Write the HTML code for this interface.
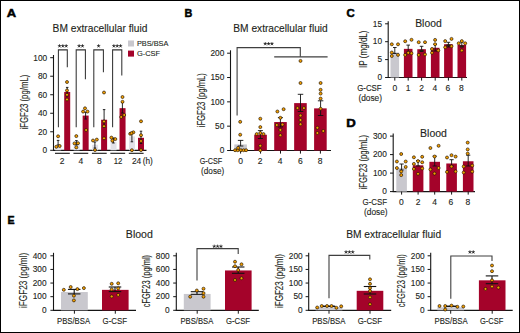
<!DOCTYPE html>
<html><head><meta charset="utf-8"><style>
html,body{margin:0;padding:0;background:#fff;}
#w{position:relative;width:520px;height:333px;overflow:hidden;}
svg{position:absolute;left:0;top:0;}
text{font-family:"Liberation Sans", sans-serif;fill:#231f20;stroke:#231f20;stroke-width:0.12px;}
text.st{fill:#222;stroke:none;}
text.pl{fill:#000;stroke:#000;stroke-width:0.5px;}
</style></head><body><div id="w">
<svg width="520" height="333" viewBox="0 0 520 333">
<rect x="0.5" y="0.5" width="519" height="332" fill="#fff" stroke="#000" stroke-width="1"/>
<text x="6.88" y="16.7" font-size="11.5" font-weight="bold" textLength="9.38" lengthAdjust="spacingAndGlyphs" class="pl">A</text>
<text x="52.58" y="31.6" font-size="10" textLength="94.8" lengthAdjust="spacingAndGlyphs">BM extracellular fluid</text>
<rect x="128" y="40.5" width="6" height="6" fill="#C9C8CE"/>
<rect x="128" y="50.6" width="6" height="6" fill="#A4032A"/>
<text x="136.91" y="46" font-size="7.9" textLength="31.49" lengthAdjust="spacingAndGlyphs">PBS/BSA</text>
<text x="136.93" y="55.8" font-size="7.9" textLength="23.18" lengthAdjust="spacingAndGlyphs">G-CSF</text>
<line x1="53.5" y1="55" x2="53.5" y2="150.8" stroke="#151515" stroke-width="1.1"/>
<line x1="50.2" y1="150.3" x2="53.5" y2="150.3" stroke="#151515" stroke-width="1"/>
<text x="42.53" y="153.1" font-size="8.3">0</text>
<line x1="50.2" y1="131.78" x2="53.5" y2="131.78" stroke="#151515" stroke-width="1"/>
<text x="37.92" y="134.58" font-size="8.3">20</text>
<line x1="50.2" y1="113.26" x2="53.5" y2="113.26" stroke="#151515" stroke-width="1"/>
<text x="37.92" y="116.06" font-size="8.3">40</text>
<line x1="50.2" y1="94.74" x2="53.5" y2="94.74" stroke="#151515" stroke-width="1"/>
<text x="37.92" y="97.54" font-size="8.3">60</text>
<line x1="50.2" y1="76.22" x2="53.5" y2="76.22" stroke="#151515" stroke-width="1"/>
<text x="37.92" y="79.02" font-size="8.3">80</text>
<line x1="50.2" y1="57.7" x2="53.5" y2="57.7" stroke="#151515" stroke-width="1"/>
<text x="33.31" y="60.5" font-size="8.3">100</text>
<text x="28" y="129.5" font-size="10" transform="rotate(-90 28 129.5)" textLength="54.79" lengthAdjust="spacingAndGlyphs">iFGF23 (pg/mL)</text>
<line x1="53" y1="150.3" x2="146.5" y2="150.3" stroke="#151515" stroke-width="1.2"/>
<rect x="55.2" y="146.6" width="6" height="3.7" fill="#E2E1E8"/>
<rect x="64.2" y="91.96" width="6" height="58.34" fill="#A4032A"/>
<line x1="55" y1="153.3" x2="69.8" y2="153.3" stroke="#151515" stroke-width="1.1"/>
<rect x="73.65" y="144.74" width="6" height="5.56" fill="#E2E1E8"/>
<rect x="82.65" y="115.58" width="6" height="34.72" fill="#A4032A"/>
<line x1="73.45" y1="153.3" x2="88.25" y2="153.3" stroke="#151515" stroke-width="1.1"/>
<rect x="92.1" y="144.74" width="6" height="5.56" fill="#E2E1E8"/>
<rect x="101.1" y="119.74" width="6" height="30.56" fill="#A4032A"/>
<line x1="91.9" y1="153.3" x2="106.7" y2="153.3" stroke="#151515" stroke-width="1.1"/>
<rect x="110.55" y="141.97" width="6" height="8.33" fill="#E2E1E8"/>
<rect x="119.55" y="108.17" width="6" height="42.13" fill="#A4032A"/>
<line x1="110.35" y1="153.3" x2="125.15" y2="153.3" stroke="#151515" stroke-width="1.1"/>
<rect x="129" y="136.41" width="6" height="13.89" fill="#E2E1E8"/>
<rect x="138" y="137.8" width="6" height="12.5" fill="#A4032A"/>
<line x1="128.8" y1="153.3" x2="143.6" y2="153.3" stroke="#151515" stroke-width="1.1"/>
<text x="59.64" y="163.5" font-size="8.5">2</text>
<text x="78.46" y="163.5" font-size="8.5">4</text>
<text x="97.12" y="163.5" font-size="8.5">8</text>
<text x="113.71" y="163.5" font-size="8.5" textLength="8.7" lengthAdjust="spacingAndGlyphs">12</text>
<text x="131.88" y="163.5" font-size="8.5" textLength="9.4" lengthAdjust="spacingAndGlyphs">24</text>
<text x="142.7" y="163.5" font-size="8.5" textLength="10.11" lengthAdjust="spacingAndGlyphs">(h)</text>
<path d="M58.4,127.3 V49.85 H67.3 V67.3" fill="none" stroke="#333" stroke-width="1.05"/>
<path d="M59.5,46 L59.5,44.65 M59.5,46 L58.22,45.58 M59.5,46 L58.71,47.09 M59.5,46 L60.29,47.09 M59.5,46 L60.78,45.58 " stroke="#222" stroke-width="0.8" stroke-linecap="round" fill="none"/>
<path d="M62.85,46 L62.85,44.65 M62.85,46 L61.57,45.58 M62.85,46 L62.06,47.09 M62.85,46 L63.64,47.09 M62.85,46 L64.13,45.58 " stroke="#222" stroke-width="0.8" stroke-linecap="round" fill="none"/>
<path d="M66.2,46 L66.2,44.65 M66.2,46 L64.92,45.58 M66.2,46 L65.41,47.09 M66.2,46 L66.99,47.09 M66.2,46 L67.48,45.58 " stroke="#222" stroke-width="0.8" stroke-linecap="round" fill="none"/>
<path d="M76.2,127.3 V49.85 H85.4 V79.3" fill="none" stroke="#333" stroke-width="1.05"/>
<path d="M79.13,46 L79.13,44.65 M79.13,46 L77.84,45.58 M79.13,46 L78.33,47.09 M79.13,46 L79.92,47.09 M79.13,46 L80.41,45.58 " stroke="#222" stroke-width="0.8" stroke-linecap="round" fill="none"/>
<path d="M82.48,46 L82.48,44.65 M82.48,46 L81.19,45.58 M82.48,46 L81.68,47.09 M82.48,46 L83.27,47.09 M82.48,46 L83.76,45.58 " stroke="#222" stroke-width="0.8" stroke-linecap="round" fill="none"/>
<path d="M93.8,127.3 V49.85 H103.4 V72.3" fill="none" stroke="#333" stroke-width="1.05"/>
<path d="M98.6,46 L98.6,44.65 M98.6,46 L97.32,45.58 M98.6,46 L97.81,47.09 M98.6,46 L99.39,47.09 M98.6,46 L99.88,45.58 " stroke="#222" stroke-width="0.8" stroke-linecap="round" fill="none"/>
<path d="M112.6,127.3 V49.85 H121.8 V75.5" fill="none" stroke="#333" stroke-width="1.05"/>
<path d="M113.85,46 L113.85,44.65 M113.85,46 L112.57,45.58 M113.85,46 L113.06,47.09 M113.85,46 L114.64,47.09 M113.85,46 L115.13,45.58 " stroke="#222" stroke-width="0.8" stroke-linecap="round" fill="none"/>
<path d="M117.2,46 L117.2,44.65 M117.2,46 L115.92,45.58 M117.2,46 L116.41,47.09 M117.2,46 L117.99,47.09 M117.2,46 L118.48,45.58 " stroke="#222" stroke-width="0.8" stroke-linecap="round" fill="none"/>
<path d="M120.55,46 L120.55,44.65 M120.55,46 L119.27,45.58 M120.55,46 L119.76,47.09 M120.55,46 L121.34,47.09 M120.55,46 L121.83,45.58 " stroke="#222" stroke-width="0.8" stroke-linecap="round" fill="none"/>
<line x1="58.1" y1="140.4" x2="58.1" y2="145" stroke="#111" stroke-width="0.9"/>
<line x1="56.8" y1="140.4" x2="59.4" y2="140.4" stroke="#111" stroke-width="0.9"/>
<line x1="56.8" y1="145" x2="59.4" y2="145" stroke="#111" stroke-width="0.9"/>
<circle cx="58.1" cy="136.3" r="1.5" fill="#F4A000" stroke="#1e1000" stroke-width="0.65"/>
<circle cx="56.3" cy="146.8" r="1.5" fill="#F4A000" stroke="#1e1000" stroke-width="0.65"/>
<circle cx="59.7" cy="146" r="1.5" fill="#F4A000" stroke="#1e1000" stroke-width="0.65"/>
<line x1="67.2" y1="87.4" x2="67.2" y2="96" stroke="#111" stroke-width="0.9"/>
<line x1="65.95" y1="87.4" x2="68.45" y2="87.4" stroke="#111" stroke-width="0.9"/>
<line x1="65.95" y1="96" x2="68.45" y2="96" stroke="#111" stroke-width="0.9"/>
<circle cx="67" cy="82" r="1.5" fill="#F4A000" stroke="#1e1000" stroke-width="0.65"/>
<circle cx="67" cy="90.4" r="1.5" fill="#F4A000" stroke="#1e1000" stroke-width="0.65"/>
<circle cx="67" cy="94.8" r="1.5" fill="#F4A000" stroke="#1e1000" stroke-width="0.65"/>
<circle cx="67" cy="99.4" r="1.5" fill="#F4A000" stroke="#1e1000" stroke-width="0.65"/>
<line x1="76.4" y1="140.6" x2="76.4" y2="145" stroke="#111" stroke-width="0.9"/>
<line x1="75.1" y1="140.6" x2="77.7" y2="140.6" stroke="#111" stroke-width="0.9"/>
<line x1="75.1" y1="145" x2="77.7" y2="145" stroke="#111" stroke-width="0.9"/>
<circle cx="76.3" cy="136.1" r="1.5" fill="#F4A000" stroke="#1e1000" stroke-width="0.65"/>
<circle cx="74.5" cy="143.4" r="1.5" fill="#F4A000" stroke="#1e1000" stroke-width="0.65"/>
<circle cx="78" cy="143.2" r="1.5" fill="#F4A000" stroke="#1e1000" stroke-width="0.65"/>
<circle cx="76.3" cy="147.4" r="1.5" fill="#F4A000" stroke="#1e1000" stroke-width="0.65"/>
<line x1="85.6" y1="112.3" x2="85.6" y2="119" stroke="#111" stroke-width="0.9"/>
<line x1="84.35" y1="112.3" x2="86.85" y2="112.3" stroke="#111" stroke-width="0.9"/>
<line x1="84.35" y1="119" x2="86.85" y2="119" stroke="#111" stroke-width="0.9"/>
<circle cx="85" cy="108.3" r="1.5" fill="#F4A000" stroke="#1e1000" stroke-width="0.65"/>
<circle cx="83.1" cy="111.6" r="1.5" fill="#F4A000" stroke="#1e1000" stroke-width="0.65"/>
<circle cx="87.5" cy="111.6" r="1.5" fill="#F4A000" stroke="#1e1000" stroke-width="0.65"/>
<circle cx="86.1" cy="130" r="1.5" fill="#F4A000" stroke="#1e1000" stroke-width="0.65"/>
<line x1="94.9" y1="142" x2="94.9" y2="148" stroke="#111" stroke-width="0.9"/>
<line x1="93.65" y1="142" x2="96.15" y2="142" stroke="#111" stroke-width="0.9"/>
<line x1="93.65" y1="148" x2="96.15" y2="148" stroke="#111" stroke-width="0.9"/>
<circle cx="93" cy="140.5" r="1.5" fill="#F4A000" stroke="#1e1000" stroke-width="0.65"/>
<circle cx="96.8" cy="139.6" r="1.5" fill="#F4A000" stroke="#1e1000" stroke-width="0.65"/>
<circle cx="95" cy="150" r="1.5" fill="#F4A000" stroke="#1e1000" stroke-width="0.65"/>
<line x1="104.1" y1="109.6" x2="104.1" y2="127.5" stroke="#111" stroke-width="0.9"/>
<line x1="102.85" y1="109.6" x2="105.35" y2="109.6" stroke="#111" stroke-width="0.9"/>
<line x1="102.85" y1="127.5" x2="105.35" y2="127.5" stroke="#111" stroke-width="0.9"/>
<circle cx="104" cy="92.5" r="1.5" fill="#F4A000" stroke="#1e1000" stroke-width="0.65"/>
<circle cx="104" cy="121.4" r="1.5" fill="#F4A000" stroke="#1e1000" stroke-width="0.65"/>
<circle cx="104" cy="126.2" r="1.5" fill="#F4A000" stroke="#1e1000" stroke-width="0.65"/>
<circle cx="104" cy="138.3" r="1.5" fill="#F4A000" stroke="#1e1000" stroke-width="0.65"/>
<line x1="113.4" y1="138" x2="113.4" y2="143" stroke="#111" stroke-width="0.9"/>
<line x1="112.15" y1="138" x2="114.65" y2="138" stroke="#111" stroke-width="0.9"/>
<line x1="112.15" y1="143" x2="114.65" y2="143" stroke="#111" stroke-width="0.9"/>
<circle cx="111.4" cy="137.6" r="1.5" fill="#F4A000" stroke="#1e1000" stroke-width="0.65"/>
<circle cx="115.3" cy="139.1" r="1.5" fill="#F4A000" stroke="#1e1000" stroke-width="0.65"/>
<circle cx="112.4" cy="140.7" r="1.5" fill="#F4A000" stroke="#1e1000" stroke-width="0.65"/>
<line x1="122.4" y1="102.5" x2="122.4" y2="113" stroke="#111" stroke-width="0.9"/>
<line x1="121.15" y1="102.5" x2="123.65" y2="102.5" stroke="#111" stroke-width="0.9"/>
<line x1="121.15" y1="113" x2="123.65" y2="113" stroke="#111" stroke-width="0.9"/>
<circle cx="122.5" cy="97" r="1.5" fill="#F4A000" stroke="#1e1000" stroke-width="0.65"/>
<circle cx="122.5" cy="101.8" r="1.5" fill="#F4A000" stroke="#1e1000" stroke-width="0.65"/>
<circle cx="121.2" cy="117" r="1.5" fill="#F4A000" stroke="#1e1000" stroke-width="0.65"/>
<circle cx="124.2" cy="115" r="1.5" fill="#F4A000" stroke="#1e1000" stroke-width="0.65"/>
<line x1="131.9" y1="132.3" x2="131.9" y2="141.8" stroke="#111" stroke-width="0.9"/>
<line x1="130.65" y1="132.3" x2="133.15" y2="132.3" stroke="#111" stroke-width="0.9"/>
<line x1="130.65" y1="141.8" x2="133.15" y2="141.8" stroke="#111" stroke-width="0.9"/>
<circle cx="130.2" cy="133.8" r="1.5" fill="#F4A000" stroke="#1e1000" stroke-width="0.65"/>
<circle cx="133.4" cy="132.3" r="1.5" fill="#F4A000" stroke="#1e1000" stroke-width="0.65"/>
<circle cx="131.5" cy="133.2" r="1.5" fill="#F4A000" stroke="#1e1000" stroke-width="0.65"/>
<circle cx="131.9" cy="150.2" r="1.5" fill="#F4A000" stroke="#1e1000" stroke-width="0.65"/>
<line x1="141" y1="131.2" x2="141" y2="143.5" stroke="#111" stroke-width="0.9"/>
<line x1="139.75" y1="131.2" x2="142.25" y2="131.2" stroke="#111" stroke-width="0.9"/>
<line x1="139.75" y1="143.5" x2="142.25" y2="143.5" stroke="#111" stroke-width="0.9"/>
<circle cx="141" cy="121.3" r="1.5" fill="#F4A000" stroke="#1e1000" stroke-width="0.65"/>
<circle cx="141" cy="135.2" r="1.5" fill="#F4A000" stroke="#1e1000" stroke-width="0.65"/>
<circle cx="141" cy="141" r="1.5" fill="#F4A000" stroke="#1e1000" stroke-width="0.65"/>
<circle cx="141" cy="150.1" r="1.5" fill="#F4A000" stroke="#1e1000" stroke-width="0.65"/>
<text x="184.4" y="16.7" font-size="11.5" font-weight="bold" textLength="7.81" lengthAdjust="spacingAndGlyphs" class="pl">B</text>
<text x="233.29" y="31.6" font-size="10" textLength="94.49" lengthAdjust="spacingAndGlyphs">BM extracellular fluid</text>
<line x1="230.5" y1="50.3" x2="230.5" y2="150.8" stroke="#151515" stroke-width="1.1"/>
<line x1="227.1" y1="150.5" x2="230.5" y2="150.5" stroke="#151515" stroke-width="1"/>
<text x="219.63" y="153.2" font-size="8.3">0</text>
<line x1="227.1" y1="126.17" x2="230.5" y2="126.17" stroke="#151515" stroke-width="1"/>
<text x="215.02" y="128.88" font-size="8.3">50</text>
<line x1="227.1" y1="101.85" x2="230.5" y2="101.85" stroke="#151515" stroke-width="1"/>
<text x="210.41" y="104.55" font-size="8.3">100</text>
<line x1="227.1" y1="77.53" x2="230.5" y2="77.53" stroke="#151515" stroke-width="1"/>
<text x="210.41" y="80.23" font-size="8.3">150</text>
<line x1="227.1" y1="53.2" x2="230.5" y2="53.2" stroke="#151515" stroke-width="1"/>
<text x="210.41" y="55.9" font-size="8.3">200</text>
<text x="205" y="127.3" font-size="10" transform="rotate(-90 205 127.3)" textLength="54.18" lengthAdjust="spacingAndGlyphs">iFGF23 (pg/mL)</text>
<line x1="230" y1="150.5" x2="331" y2="150.5" stroke="#151515" stroke-width="1.2"/>
<rect x="234.3" y="144.42" width="12.6" height="6.08" fill="#C9C8CE"/>
<line x1="240.6" y1="150.5" x2="240.6" y2="153.6" stroke="#151515" stroke-width="1"/>
<rect x="254.25" y="134.74" width="12.6" height="15.76" fill="#A4032A"/>
<line x1="260.55" y1="150.5" x2="260.55" y2="153.6" stroke="#151515" stroke-width="1"/>
<rect x="274.2" y="122.04" width="12.6" height="28.46" fill="#A4032A"/>
<line x1="280.5" y1="150.5" x2="280.5" y2="153.6" stroke="#151515" stroke-width="1"/>
<rect x="294.15" y="103.11" width="12.6" height="47.39" fill="#A4032A"/>
<line x1="300.45" y1="150.5" x2="300.45" y2="153.6" stroke="#151515" stroke-width="1"/>
<rect x="314.1" y="108.37" width="12.6" height="42.13" fill="#A4032A"/>
<line x1="320.4" y1="150.5" x2="320.4" y2="153.6" stroke="#151515" stroke-width="1"/>
<text x="238.24" y="164.1" font-size="8.5">0</text>
<text x="257.74" y="164.1" font-size="8.5">2</text>
<text x="277.66" y="164.1" font-size="8.5">4</text>
<text x="297.92" y="164.1" font-size="8.5">6</text>
<text x="317.72" y="164.1" font-size="8.5">8</text>
<text x="199.64" y="164.1" font-size="8.5" textLength="22.56" lengthAdjust="spacingAndGlyphs">G-CSF</text>
<text x="201.11" y="173.6" font-size="8.5" textLength="23.12" lengthAdjust="spacingAndGlyphs">(dose)</text>
<path d="M237.1,115.5 V47.6 H300.3 V56.8" fill="none" stroke="#3f3f3f" stroke-width="1.1"/>
<line x1="274.2" y1="56.8" x2="327.6" y2="56.8" stroke="#3f3f3f" stroke-width="1.2"/>
<path d="M265.25,43.8 L265.25,42.45 M265.25,43.8 L263.97,43.38 M265.25,43.8 L264.46,44.89 M265.25,43.8 L266.04,44.89 M265.25,43.8 L266.53,43.38 " stroke="#222" stroke-width="0.8" stroke-linecap="round" fill="none"/>
<path d="M268.6,43.8 L268.6,42.45 M268.6,43.8 L267.32,43.38 M268.6,43.8 L267.81,44.89 M268.6,43.8 L269.39,44.89 M268.6,43.8 L269.88,43.38 " stroke="#222" stroke-width="0.8" stroke-linecap="round" fill="none"/>
<path d="M271.95,43.8 L271.95,42.45 M271.95,43.8 L270.67,43.38 M271.95,43.8 L271.16,44.89 M271.95,43.8 L272.74,44.89 M271.95,43.8 L273.23,43.38 " stroke="#222" stroke-width="0.8" stroke-linecap="round" fill="none"/>
<line x1="240.6" y1="140.4" x2="240.6" y2="146" stroke="#111" stroke-width="0.9"/>
<line x1="237.85" y1="140.4" x2="243.35" y2="140.4" stroke="#111" stroke-width="0.9"/>
<line x1="237.85" y1="146" x2="243.35" y2="146" stroke="#111" stroke-width="0.9"/>
<circle cx="240.2" cy="121.8" r="1.5" fill="#F4A000" stroke="#1e1000" stroke-width="0.65"/>
<circle cx="240.2" cy="134.7" r="1.5" fill="#F4A000" stroke="#1e1000" stroke-width="0.65"/>
<circle cx="235.1" cy="150.2" r="1.5" fill="#F4A000" stroke="#1e1000" stroke-width="0.65"/>
<circle cx="237.7" cy="150.2" r="1.5" fill="#F4A000" stroke="#1e1000" stroke-width="0.65"/>
<circle cx="240.9" cy="150.2" r="1.5" fill="#F4A000" stroke="#1e1000" stroke-width="0.65"/>
<circle cx="243.6" cy="150.2" r="1.5" fill="#F4A000" stroke="#1e1000" stroke-width="0.65"/>
<circle cx="246.1" cy="150.2" r="1.5" fill="#F4A000" stroke="#1e1000" stroke-width="0.65"/>
<circle cx="238.1" cy="147.9" r="1.5" fill="#F4A000" stroke="#1e1000" stroke-width="0.65"/>
<line x1="260.4" y1="130.6" x2="260.4" y2="138.5" stroke="#111" stroke-width="0.9"/>
<line x1="257.9" y1="130.6" x2="262.9" y2="130.6" stroke="#111" stroke-width="0.9"/>
<line x1="257.9" y1="138.5" x2="262.9" y2="138.5" stroke="#111" stroke-width="0.9"/>
<circle cx="260.3" cy="118.7" r="1.5" fill="#F4A000" stroke="#1e1000" stroke-width="0.65"/>
<circle cx="260.3" cy="127.1" r="1.5" fill="#F4A000" stroke="#1e1000" stroke-width="0.65"/>
<circle cx="256.7" cy="134.1" r="1.5" fill="#F4A000" stroke="#1e1000" stroke-width="0.65"/>
<circle cx="263.5" cy="134.1" r="1.5" fill="#F4A000" stroke="#1e1000" stroke-width="0.65"/>
<circle cx="260.3" cy="133" r="1.5" fill="#F4A000" stroke="#1e1000" stroke-width="0.65"/>
<circle cx="260.3" cy="145.7" r="1.5" fill="#F4A000" stroke="#1e1000" stroke-width="0.65"/>
<circle cx="260.3" cy="150.2" r="1.5" fill="#F4A000" stroke="#1e1000" stroke-width="0.65"/>
<line x1="280.4" y1="117.6" x2="280.4" y2="127" stroke="#111" stroke-width="0.9"/>
<line x1="277.9" y1="117.6" x2="282.9" y2="117.6" stroke="#111" stroke-width="0.9"/>
<line x1="277.9" y1="127" x2="282.9" y2="127" stroke="#111" stroke-width="0.9"/>
<circle cx="277.4" cy="111.5" r="1.5" fill="#F4A000" stroke="#1e1000" stroke-width="0.65"/>
<circle cx="283.6" cy="109.2" r="1.5" fill="#F4A000" stroke="#1e1000" stroke-width="0.65"/>
<circle cx="280.4" cy="117.8" r="1.5" fill="#F4A000" stroke="#1e1000" stroke-width="0.65"/>
<circle cx="276.8" cy="125" r="1.5" fill="#F4A000" stroke="#1e1000" stroke-width="0.65"/>
<circle cx="282.5" cy="124.6" r="1.5" fill="#F4A000" stroke="#1e1000" stroke-width="0.65"/>
<circle cx="280.4" cy="129.9" r="1.5" fill="#F4A000" stroke="#1e1000" stroke-width="0.65"/>
<circle cx="280.4" cy="135.2" r="1.5" fill="#F4A000" stroke="#1e1000" stroke-width="0.65"/>
<line x1="300.5" y1="94.3" x2="300.5" y2="111.5" stroke="#111" stroke-width="0.9"/>
<line x1="297.75" y1="94.3" x2="303.25" y2="94.3" stroke="#111" stroke-width="0.9"/>
<line x1="297.75" y1="111.5" x2="303.25" y2="111.5" stroke="#111" stroke-width="0.9"/>
<circle cx="300.5" cy="60.9" r="1.5" fill="#F4A000" stroke="#1e1000" stroke-width="0.65"/>
<circle cx="300.5" cy="83" r="1.5" fill="#F4A000" stroke="#1e1000" stroke-width="0.65"/>
<circle cx="297.5" cy="108.1" r="1.5" fill="#F4A000" stroke="#1e1000" stroke-width="0.65"/>
<circle cx="303.9" cy="108.1" r="1.5" fill="#F4A000" stroke="#1e1000" stroke-width="0.65"/>
<circle cx="300.5" cy="115.5" r="1.5" fill="#F4A000" stroke="#1e1000" stroke-width="0.65"/>
<circle cx="300.5" cy="120" r="1.5" fill="#F4A000" stroke="#1e1000" stroke-width="0.65"/>
<circle cx="300.5" cy="124.2" r="1.5" fill="#F4A000" stroke="#1e1000" stroke-width="0.65"/>
<line x1="320.6" y1="100.8" x2="320.6" y2="115.5" stroke="#111" stroke-width="0.9"/>
<line x1="317.85" y1="100.8" x2="323.35" y2="100.8" stroke="#111" stroke-width="0.9"/>
<line x1="317.85" y1="115.5" x2="323.35" y2="115.5" stroke="#111" stroke-width="0.9"/>
<circle cx="320.6" cy="83" r="1.5" fill="#F4A000" stroke="#1e1000" stroke-width="0.65"/>
<circle cx="320.6" cy="89.8" r="1.5" fill="#F4A000" stroke="#1e1000" stroke-width="0.65"/>
<circle cx="320.6" cy="93.6" r="1.5" fill="#F4A000" stroke="#1e1000" stroke-width="0.65"/>
<circle cx="320.6" cy="98.6" r="1.5" fill="#F4A000" stroke="#1e1000" stroke-width="0.65"/>
<circle cx="320.6" cy="108.7" r="1.5" fill="#F4A000" stroke="#1e1000" stroke-width="0.65"/>
<circle cx="317.4" cy="127.8" r="1.5" fill="#F4A000" stroke="#1e1000" stroke-width="0.65"/>
<circle cx="323.3" cy="131" r="1.5" fill="#F4A000" stroke="#1e1000" stroke-width="0.65"/>
<circle cx="317.4" cy="133" r="1.5" fill="#F4A000" stroke="#1e1000" stroke-width="0.65"/>
<text x="346.44" y="16.7" font-size="11.5" font-weight="bold" textLength="8.27" lengthAdjust="spacingAndGlyphs" class="pl">C</text>
<text x="415.22" y="26.8" font-size="10" textLength="26.48" lengthAdjust="spacingAndGlyphs">Blood</text>
<line x1="388.2" y1="21.2" x2="388.2" y2="77.9" stroke="#151515" stroke-width="1.1"/>
<line x1="385.1" y1="77.5" x2="388.2" y2="77.5" stroke="#151515" stroke-width="1"/>
<text x="377.43" y="80.2" font-size="8.3">0</text>
<line x1="385.1" y1="59.6" x2="388.2" y2="59.6" stroke="#151515" stroke-width="1"/>
<text x="377.43" y="62.3" font-size="8.3">5</text>
<line x1="385.1" y1="41.7" x2="388.2" y2="41.7" stroke="#151515" stroke-width="1"/>
<text x="372.82" y="44.4" font-size="8.3">10</text>
<line x1="385.1" y1="23.8" x2="388.2" y2="23.8" stroke="#151515" stroke-width="1"/>
<text x="372.82" y="26.5" font-size="8.3">15</text>
<text x="366.9" y="67.92" font-size="10" transform="rotate(-90 366.9 67.92)" textLength="37.45" lengthAdjust="spacingAndGlyphs">IP (mg/dL)</text>
<line x1="388" y1="77.5" x2="467" y2="77.5" stroke="#151515" stroke-width="1.2"/>
<rect x="390.5" y="52.44" width="8.6" height="25.06" fill="#C9C8CE"/>
<line x1="394.8" y1="77.5" x2="394.8" y2="80.6" stroke="#151515" stroke-width="1"/>
<rect x="403.9" y="48.86" width="8.6" height="28.64" fill="#A4032A"/>
<line x1="408.2" y1="77.5" x2="408.2" y2="80.6" stroke="#151515" stroke-width="1"/>
<rect x="417.3" y="49.22" width="8.6" height="28.28" fill="#A4032A"/>
<line x1="421.6" y1="77.5" x2="421.6" y2="80.6" stroke="#151515" stroke-width="1"/>
<rect x="430.9" y="47.79" width="8.6" height="29.71" fill="#A4032A"/>
<line x1="435.2" y1="77.5" x2="435.2" y2="80.6" stroke="#151515" stroke-width="1"/>
<rect x="444.1" y="44.21" width="8.6" height="33.29" fill="#A4032A"/>
<line x1="448.4" y1="77.5" x2="448.4" y2="80.6" stroke="#151515" stroke-width="1"/>
<rect x="457.5" y="44.92" width="8.6" height="32.58" fill="#A4032A"/>
<line x1="461.8" y1="77.5" x2="461.8" y2="80.6" stroke="#151515" stroke-width="1"/>
<text x="392.49" y="91.2" font-size="8.5">0</text>
<text x="405.74" y="91.2" font-size="8.5">1</text>
<text x="419.34" y="91.2" font-size="8.5">2</text>
<text x="432.56" y="91.2" font-size="8.5">4</text>
<text x="445.42" y="91.2" font-size="8.5">6</text>
<text x="459.02" y="91.2" font-size="8.5">8</text>
<text x="357.21" y="91" font-size="8.5" textLength="24.41" lengthAdjust="spacingAndGlyphs">G-CSF</text>
<text x="358.4" y="100.7" font-size="8.5" textLength="23.64" lengthAdjust="spacingAndGlyphs">(dose)</text>
<line x1="394.8" y1="47.5" x2="394.8" y2="53.5" stroke="#111" stroke-width="0.9"/>
<line x1="393" y1="47.5" x2="396.6" y2="47.5" stroke="#111" stroke-width="0.9"/>
<line x1="393" y1="53.5" x2="396.6" y2="53.5" stroke="#111" stroke-width="0.9"/>
<circle cx="391.8" cy="44.3" r="1.5" fill="#F4A000" stroke="#1e1000" stroke-width="0.65"/>
<circle cx="398" cy="44.3" r="1.5" fill="#F4A000" stroke="#1e1000" stroke-width="0.65"/>
<circle cx="391.8" cy="52.5" r="1.5" fill="#F4A000" stroke="#1e1000" stroke-width="0.65"/>
<circle cx="391.8" cy="56" r="1.5" fill="#F4A000" stroke="#1e1000" stroke-width="0.65"/>
<circle cx="398" cy="54.9" r="1.5" fill="#F4A000" stroke="#1e1000" stroke-width="0.65"/>
<line x1="408.2" y1="45.1" x2="408.2" y2="52" stroke="#111" stroke-width="0.9"/>
<line x1="406.4" y1="45.1" x2="410" y2="45.1" stroke="#111" stroke-width="0.9"/>
<line x1="406.4" y1="52" x2="410" y2="52" stroke="#111" stroke-width="0.9"/>
<circle cx="405.2" cy="41.25" r="1.5" fill="#F4A000" stroke="#1e1000" stroke-width="0.65"/>
<circle cx="411.5" cy="39.8" r="1.5" fill="#F4A000" stroke="#1e1000" stroke-width="0.65"/>
<circle cx="405.2" cy="54.9" r="1.5" fill="#F4A000" stroke="#1e1000" stroke-width="0.65"/>
<circle cx="408.3" cy="52.8" r="1.5" fill="#F4A000" stroke="#1e1000" stroke-width="0.65"/>
<circle cx="411.5" cy="53.3" r="1.5" fill="#F4A000" stroke="#1e1000" stroke-width="0.65"/>
<line x1="421.6" y1="46.3" x2="421.6" y2="51.5" stroke="#111" stroke-width="0.9"/>
<line x1="419.8" y1="46.3" x2="423.4" y2="46.3" stroke="#111" stroke-width="0.9"/>
<line x1="419.8" y1="51.5" x2="423.4" y2="51.5" stroke="#111" stroke-width="0.9"/>
<line x1="419.6" y1="50.5" x2="423.6" y2="50.5" stroke="#221" stroke-width="1.6"/>
<circle cx="418.7" cy="42.2" r="1.5" fill="#F4A000" stroke="#1e1000" stroke-width="0.65"/>
<circle cx="425" cy="42.2" r="1.5" fill="#F4A000" stroke="#1e1000" stroke-width="0.65"/>
<circle cx="418.7" cy="54.9" r="1.5" fill="#F4A000" stroke="#1e1000" stroke-width="0.65"/>
<circle cx="425" cy="54.4" r="1.5" fill="#F4A000" stroke="#1e1000" stroke-width="0.65"/>
<line x1="435.2" y1="44.4" x2="435.2" y2="51" stroke="#111" stroke-width="0.9"/>
<line x1="433.4" y1="44.4" x2="437" y2="44.4" stroke="#111" stroke-width="0.9"/>
<line x1="433.4" y1="51" x2="437" y2="51" stroke="#111" stroke-width="0.9"/>
<circle cx="435.1" cy="39.9" r="1.5" fill="#F4A000" stroke="#1e1000" stroke-width="0.65"/>
<circle cx="435.1" cy="44.2" r="1.5" fill="#F4A000" stroke="#1e1000" stroke-width="0.65"/>
<circle cx="432" cy="49" r="1.5" fill="#F4A000" stroke="#1e1000" stroke-width="0.65"/>
<circle cx="438.3" cy="50.4" r="1.5" fill="#F4A000" stroke="#1e1000" stroke-width="0.65"/>
<circle cx="432" cy="52.8" r="1.5" fill="#F4A000" stroke="#1e1000" stroke-width="0.65"/>
<line x1="448.4" y1="42.3" x2="448.4" y2="47" stroke="#111" stroke-width="0.9"/>
<line x1="446.6" y1="42.3" x2="450.2" y2="42.3" stroke="#111" stroke-width="0.9"/>
<line x1="446.6" y1="47" x2="450.2" y2="47" stroke="#111" stroke-width="0.9"/>
<line x1="446.4" y1="45.2" x2="450.4" y2="45.2" stroke="#221" stroke-width="1.6"/>
<circle cx="445.2" cy="41.1" r="1.5" fill="#F4A000" stroke="#1e1000" stroke-width="0.65"/>
<circle cx="451.5" cy="38.9" r="1.5" fill="#F4A000" stroke="#1e1000" stroke-width="0.65"/>
<circle cx="445.2" cy="47.3" r="1.5" fill="#F4A000" stroke="#1e1000" stroke-width="0.65"/>
<circle cx="451.5" cy="46.2" r="1.5" fill="#F4A000" stroke="#1e1000" stroke-width="0.65"/>
<line x1="461.8" y1="42" x2="461.8" y2="47" stroke="#111" stroke-width="0.9"/>
<line x1="460" y1="42" x2="463.6" y2="42" stroke="#111" stroke-width="0.9"/>
<line x1="460" y1="47" x2="463.6" y2="47" stroke="#111" stroke-width="0.9"/>
<line x1="459.8" y1="46.3" x2="463.8" y2="46.3" stroke="#221" stroke-width="1.6"/>
<circle cx="461.8" cy="41.1" r="1.5" fill="#F4A000" stroke="#1e1000" stroke-width="0.65"/>
<circle cx="458.7" cy="43.3" r="1.5" fill="#F4A000" stroke="#1e1000" stroke-width="0.65"/>
<circle cx="465.2" cy="43.3" r="1.5" fill="#F4A000" stroke="#1e1000" stroke-width="0.65"/>
<circle cx="461.8" cy="50.4" r="1.5" fill="#F4A000" stroke="#1e1000" stroke-width="0.65"/>
<text x="346.34" y="126.7" font-size="11.5" font-weight="bold" textLength="9.51" lengthAdjust="spacingAndGlyphs" class="pl">D</text>
<text x="420.06" y="136.6" font-size="10" textLength="26.85" lengthAdjust="spacingAndGlyphs">Blood</text>
<line x1="393.2" y1="133.6" x2="393.2" y2="192" stroke="#151515" stroke-width="1.1"/>
<line x1="390" y1="191.6" x2="393.2" y2="191.6" stroke="#151515" stroke-width="1"/>
<text x="382.13" y="194.3" font-size="8.3">0</text>
<line x1="390" y1="173.1" x2="393.2" y2="173.1" stroke="#151515" stroke-width="1"/>
<text x="372.91" y="175.8" font-size="8.3">100</text>
<line x1="390" y1="154.6" x2="393.2" y2="154.6" stroke="#151515" stroke-width="1"/>
<text x="372.91" y="157.3" font-size="8.3">200</text>
<line x1="390" y1="136.1" x2="393.2" y2="136.1" stroke="#151515" stroke-width="1"/>
<text x="372.91" y="138.8" font-size="8.3">300</text>
<text x="366.7" y="189.4" font-size="10" transform="rotate(-90 366.7 189.4)" textLength="54.48" lengthAdjust="spacingAndGlyphs">iFGF23 (pg/mL)</text>
<line x1="392.7" y1="191.6" x2="475" y2="191.6" stroke="#151515" stroke-width="1.2"/>
<rect x="396.3" y="167.92" width="10.6" height="23.68" fill="#C9C8CE"/>
<line x1="401.6" y1="191.6" x2="401.6" y2="194.6" stroke="#151515" stroke-width="1"/>
<rect x="412.8" y="165.33" width="10.6" height="26.27" fill="#A4032A"/>
<line x1="418.1" y1="191.6" x2="418.1" y2="194.6" stroke="#151515" stroke-width="1"/>
<rect x="429.4" y="161.81" width="10.6" height="29.78" fill="#A4032A"/>
<line x1="434.7" y1="191.6" x2="434.7" y2="194.6" stroke="#151515" stroke-width="1"/>
<rect x="446.3" y="163.48" width="10.6" height="28.12" fill="#A4032A"/>
<line x1="451.6" y1="191.6" x2="451.6" y2="194.6" stroke="#151515" stroke-width="1"/>
<rect x="462.9" y="161.26" width="10.6" height="30.34" fill="#A4032A"/>
<line x1="468.2" y1="191.6" x2="468.2" y2="194.6" stroke="#151515" stroke-width="1"/>
<text x="399.04" y="204.9" font-size="8.5">0</text>
<text x="415.74" y="204.9" font-size="8.5">2</text>
<text x="432.26" y="204.9" font-size="8.5">4</text>
<text x="448.62" y="204.9" font-size="8.5">6</text>
<text x="465.62" y="204.9" font-size="8.5">8</text>
<text x="362.5" y="205.1" font-size="8.5" textLength="24.62" lengthAdjust="spacingAndGlyphs">G-CSF</text>
<text x="364" y="214.7" font-size="8.5" textLength="23.64" lengthAdjust="spacingAndGlyphs">(dose)</text>
<line x1="401.6" y1="164" x2="401.6" y2="170" stroke="#111" stroke-width="0.9"/>
<line x1="399.5" y1="164" x2="403.7" y2="164" stroke="#111" stroke-width="0.9"/>
<line x1="399.5" y1="170" x2="403.7" y2="170" stroke="#111" stroke-width="0.9"/>
<circle cx="401.2" cy="154" r="1.5" fill="#F4A000" stroke="#1e1000" stroke-width="0.65"/>
<circle cx="396.9" cy="161.5" r="1.5" fill="#F4A000" stroke="#1e1000" stroke-width="0.65"/>
<circle cx="405.7" cy="161.5" r="1.5" fill="#F4A000" stroke="#1e1000" stroke-width="0.65"/>
<circle cx="396.9" cy="168" r="1.5" fill="#F4A000" stroke="#1e1000" stroke-width="0.65"/>
<circle cx="405.7" cy="166.9" r="1.5" fill="#F4A000" stroke="#1e1000" stroke-width="0.65"/>
<circle cx="401.2" cy="171.4" r="1.5" fill="#F4A000" stroke="#1e1000" stroke-width="0.65"/>
<circle cx="401.2" cy="175.1" r="1.5" fill="#F4A000" stroke="#1e1000" stroke-width="0.65"/>
<line x1="418.1" y1="160.6" x2="418.1" y2="166" stroke="#111" stroke-width="0.9"/>
<line x1="416" y1="160.6" x2="420.2" y2="160.6" stroke="#111" stroke-width="0.9"/>
<line x1="416" y1="166" x2="420.2" y2="166" stroke="#111" stroke-width="0.9"/>
<circle cx="413.9" cy="157.3" r="1.5" fill="#F4A000" stroke="#1e1000" stroke-width="0.65"/>
<circle cx="422.2" cy="156.8" r="1.5" fill="#F4A000" stroke="#1e1000" stroke-width="0.65"/>
<circle cx="418" cy="161.1" r="1.5" fill="#F4A000" stroke="#1e1000" stroke-width="0.65"/>
<circle cx="413.9" cy="163.9" r="1.5" fill="#F4A000" stroke="#1e1000" stroke-width="0.65"/>
<circle cx="422.2" cy="162.3" r="1.5" fill="#F4A000" stroke="#1e1000" stroke-width="0.65"/>
<circle cx="413.9" cy="168.9" r="1.5" fill="#F4A000" stroke="#1e1000" stroke-width="0.65"/>
<circle cx="422.2" cy="168.4" r="1.5" fill="#F4A000" stroke="#1e1000" stroke-width="0.65"/>
<circle cx="418" cy="173.8" r="1.5" fill="#F4A000" stroke="#1e1000" stroke-width="0.65"/>
<line x1="434.7" y1="156.2" x2="434.7" y2="166" stroke="#111" stroke-width="0.9"/>
<line x1="432.6" y1="156.2" x2="436.8" y2="156.2" stroke="#111" stroke-width="0.9"/>
<line x1="432.6" y1="166" x2="436.8" y2="166" stroke="#111" stroke-width="0.9"/>
<circle cx="430.4" cy="148" r="1.5" fill="#F4A000" stroke="#1e1000" stroke-width="0.65"/>
<circle cx="438.6" cy="145.8" r="1.5" fill="#F4A000" stroke="#1e1000" stroke-width="0.65"/>
<circle cx="434.6" cy="156.5" r="1.5" fill="#F4A000" stroke="#1e1000" stroke-width="0.65"/>
<circle cx="430.4" cy="169.4" r="1.5" fill="#F4A000" stroke="#1e1000" stroke-width="0.65"/>
<circle cx="438.6" cy="168" r="1.5" fill="#F4A000" stroke="#1e1000" stroke-width="0.65"/>
<circle cx="434.5" cy="173.6" r="1.5" fill="#F4A000" stroke="#1e1000" stroke-width="0.65"/>
<line x1="451.6" y1="159.7" x2="451.6" y2="166" stroke="#111" stroke-width="0.9"/>
<line x1="449.5" y1="159.7" x2="453.7" y2="159.7" stroke="#111" stroke-width="0.9"/>
<line x1="449.5" y1="166" x2="453.7" y2="166" stroke="#111" stroke-width="0.9"/>
<circle cx="447" cy="157.5" r="1.5" fill="#F4A000" stroke="#1e1000" stroke-width="0.65"/>
<circle cx="451.5" cy="155.2" r="1.5" fill="#F4A000" stroke="#1e1000" stroke-width="0.65"/>
<circle cx="455.6" cy="156.6" r="1.5" fill="#F4A000" stroke="#1e1000" stroke-width="0.65"/>
<circle cx="451.5" cy="166.5" r="1.5" fill="#F4A000" stroke="#1e1000" stroke-width="0.65"/>
<circle cx="447" cy="171.9" r="1.5" fill="#F4A000" stroke="#1e1000" stroke-width="0.65"/>
<circle cx="455.6" cy="171.4" r="1.5" fill="#F4A000" stroke="#1e1000" stroke-width="0.65"/>
<line x1="468.2" y1="155.2" x2="468.2" y2="166" stroke="#111" stroke-width="0.9"/>
<line x1="466.1" y1="155.2" x2="470.3" y2="155.2" stroke="#111" stroke-width="0.9"/>
<line x1="466.1" y1="166" x2="470.3" y2="166" stroke="#111" stroke-width="0.9"/>
<circle cx="467.7" cy="142.6" r="1.5" fill="#F4A000" stroke="#1e1000" stroke-width="0.65"/>
<circle cx="467.7" cy="149.4" r="1.5" fill="#F4A000" stroke="#1e1000" stroke-width="0.65"/>
<circle cx="467.7" cy="153.6" r="1.5" fill="#F4A000" stroke="#1e1000" stroke-width="0.65"/>
<circle cx="463.7" cy="166.5" r="1.5" fill="#F4A000" stroke="#1e1000" stroke-width="0.65"/>
<circle cx="472.2" cy="165.6" r="1.5" fill="#F4A000" stroke="#1e1000" stroke-width="0.65"/>
<circle cx="463.7" cy="172.5" r="1.5" fill="#F4A000" stroke="#1e1000" stroke-width="0.65"/>
<circle cx="472.2" cy="171.6" r="1.5" fill="#F4A000" stroke="#1e1000" stroke-width="0.65"/>
<text x="7.41" y="223.8" font-size="11.5" font-weight="bold" textLength="7.08" lengthAdjust="spacingAndGlyphs" class="pl">E</text>
<text x="125.86" y="237.8" font-size="10" textLength="26.96" lengthAdjust="spacingAndGlyphs">Blood</text>
<text x="346.18" y="238" font-size="10" textLength="94.9" lengthAdjust="spacingAndGlyphs">BM extracellular fluid</text>
<line x1="53.5" y1="252.8" x2="53.5" y2="310.9" stroke="#151515" stroke-width="1.1"/>
<line x1="50.4" y1="310.3" x2="53.5" y2="310.3" stroke="#151515" stroke-width="1"/>
<text x="41.93" y="313" font-size="8.3">0</text>
<line x1="50.4" y1="296.68" x2="53.5" y2="296.68" stroke="#151515" stroke-width="1"/>
<text x="32.71" y="299.38" font-size="8.3">100</text>
<line x1="50.4" y1="283.05" x2="53.5" y2="283.05" stroke="#151515" stroke-width="1"/>
<text x="32.71" y="285.75" font-size="8.3">200</text>
<line x1="50.4" y1="269.43" x2="53.5" y2="269.43" stroke="#151515" stroke-width="1"/>
<text x="32.71" y="272.12" font-size="8.3">300</text>
<line x1="50.4" y1="255.8" x2="53.5" y2="255.8" stroke="#151515" stroke-width="1"/>
<text x="32.71" y="258.5" font-size="8.3">400</text>
<text x="27.2" y="308.03" font-size="10" transform="rotate(-90 27.2 308.03)" textLength="55.15" lengthAdjust="spacingAndGlyphs">iFGF23 (pg/ml)</text>
<line x1="53" y1="310.3" x2="136" y2="310.3" stroke="#151515" stroke-width="1.2"/>
<rect x="61" y="292.04" width="26.8" height="18.26" fill="#C9C8CE"/>
<rect x="102" y="289.86" width="26.6" height="20.44" fill="#A4032A"/>
<line x1="74.4" y1="310.3" x2="74.4" y2="313.7" stroke="#151515" stroke-width="1"/>
<line x1="115.3" y1="310.3" x2="115.3" y2="313.7" stroke="#151515" stroke-width="1"/>
<text x="57.03" y="324.3" font-size="8.8" textLength="33.07" lengthAdjust="spacingAndGlyphs">PBS/BSA</text>
<text x="102.61" y="324.3" font-size="8.8" textLength="24.52" lengthAdjust="spacingAndGlyphs">G-CSF</text>
<line x1="74.2" y1="289.4" x2="74.2" y2="293.9" stroke="#111" stroke-width="1.1"/>
<line x1="67.95" y1="289.4" x2="80.45" y2="289.4" stroke="#111" stroke-width="1.1"/>
<line x1="67.95" y1="293.9" x2="80.45" y2="293.9" stroke="#111" stroke-width="1.1"/>
<circle cx="63.8" cy="289.8" r="1.5" fill="#F4A000" stroke="#1e1000" stroke-width="0.65"/>
<circle cx="70.7" cy="287" r="1.5" fill="#F4A000" stroke="#1e1000" stroke-width="0.65"/>
<circle cx="77.4" cy="289.1" r="1.5" fill="#F4A000" stroke="#1e1000" stroke-width="0.65"/>
<circle cx="83.9" cy="288.1" r="1.5" fill="#F4A000" stroke="#1e1000" stroke-width="0.65"/>
<circle cx="73.9" cy="295.7" r="1.5" fill="#F4A000" stroke="#1e1000" stroke-width="0.65"/>
<circle cx="73.9" cy="300.4" r="1.5" fill="#F4A000" stroke="#1e1000" stroke-width="0.65"/>
<line x1="115" y1="287" x2="115" y2="291.6" stroke="#111" stroke-width="1.1"/>
<line x1="108.75" y1="287" x2="121.25" y2="287" stroke="#111" stroke-width="1.1"/>
<line x1="108.75" y1="291.6" x2="121.25" y2="291.6" stroke="#111" stroke-width="1.1"/>
<circle cx="111.7" cy="283.8" r="1.5" fill="#F4A000" stroke="#1e1000" stroke-width="0.65"/>
<circle cx="118.2" cy="283.3" r="1.5" fill="#F4A000" stroke="#1e1000" stroke-width="0.65"/>
<circle cx="111.7" cy="289.4" r="1.5" fill="#F4A000" stroke="#1e1000" stroke-width="0.65"/>
<circle cx="118.2" cy="288.4" r="1.5" fill="#F4A000" stroke="#1e1000" stroke-width="0.65"/>
<circle cx="111.7" cy="296.4" r="1.5" fill="#F4A000" stroke="#1e1000" stroke-width="0.65"/>
<circle cx="118.2" cy="294.9" r="1.5" fill="#F4A000" stroke="#1e1000" stroke-width="0.65"/>
<line x1="176.3" y1="252.8" x2="176.3" y2="310.9" stroke="#151515" stroke-width="1.1"/>
<line x1="173.2" y1="310.3" x2="176.3" y2="310.3" stroke="#151515" stroke-width="1"/>
<text x="165.03" y="313" font-size="8.3">0</text>
<line x1="173.2" y1="296.68" x2="176.3" y2="296.68" stroke="#151515" stroke-width="1"/>
<text x="155.81" y="299.38" font-size="8.3">200</text>
<line x1="173.2" y1="283.05" x2="176.3" y2="283.05" stroke="#151515" stroke-width="1"/>
<text x="155.81" y="285.75" font-size="8.3">400</text>
<line x1="173.2" y1="269.43" x2="176.3" y2="269.43" stroke="#151515" stroke-width="1"/>
<text x="155.81" y="272.12" font-size="8.3">600</text>
<line x1="173.2" y1="255.8" x2="176.3" y2="255.8" stroke="#151515" stroke-width="1"/>
<text x="155.81" y="258.5" font-size="8.3">800</text>
<text x="150.4" y="307.34" font-size="10" transform="rotate(-90 150.4 307.34)" textLength="52.39" lengthAdjust="spacingAndGlyphs">cFGF23 (pg/ml)</text>
<line x1="175.8" y1="310.3" x2="258.8" y2="310.3" stroke="#151515" stroke-width="1.2"/>
<rect x="183.8" y="293.95" width="26.8" height="16.35" fill="#C9C8CE"/>
<rect x="225" y="270.45" width="26.6" height="39.85" fill="#A4032A"/>
<line x1="197.2" y1="310.3" x2="197.2" y2="313.7" stroke="#151515" stroke-width="1"/>
<line x1="238.3" y1="310.3" x2="238.3" y2="313.7" stroke="#151515" stroke-width="1"/>
<text x="180.49" y="324.3" font-size="8.8" textLength="32.81" lengthAdjust="spacingAndGlyphs">PBS/BSA</text>
<text x="226.01" y="324.3" font-size="8.8" textLength="24.1" lengthAdjust="spacingAndGlyphs">G-CSF</text>
<line x1="197" y1="291.7" x2="197" y2="294.3" stroke="#111" stroke-width="1.1"/>
<line x1="190.75" y1="291.7" x2="203.25" y2="291.7" stroke="#111" stroke-width="1.1"/>
<line x1="190.75" y1="294.3" x2="203.25" y2="294.3" stroke="#111" stroke-width="1.1"/>
<circle cx="196.8" cy="290.5" r="1.5" fill="#F4A000" stroke="#1e1000" stroke-width="0.65"/>
<circle cx="203.5" cy="288.7" r="1.5" fill="#F4A000" stroke="#1e1000" stroke-width="0.65"/>
<circle cx="203.5" cy="293.2" r="1.5" fill="#F4A000" stroke="#1e1000" stroke-width="0.65"/>
<circle cx="190.2" cy="296.7" r="1.5" fill="#F4A000" stroke="#1e1000" stroke-width="0.65"/>
<circle cx="203.5" cy="296.7" r="1.5" fill="#F4A000" stroke="#1e1000" stroke-width="0.65"/>
<line x1="238.2" y1="267" x2="238.2" y2="273.3" stroke="#111" stroke-width="1.1"/>
<line x1="231.95" y1="267" x2="244.45" y2="267" stroke="#111" stroke-width="1.1"/>
<line x1="231.95" y1="273.3" x2="244.45" y2="273.3" stroke="#111" stroke-width="1.1"/>
<circle cx="235" cy="261.7" r="1.5" fill="#F4A000" stroke="#1e1000" stroke-width="0.65"/>
<circle cx="241.5" cy="264.3" r="1.5" fill="#F4A000" stroke="#1e1000" stroke-width="0.65"/>
<circle cx="235" cy="266.2" r="1.5" fill="#F4A000" stroke="#1e1000" stroke-width="0.65"/>
<circle cx="238.2" cy="270" r="1.5" fill="#F4A000" stroke="#1e1000" stroke-width="0.65"/>
<circle cx="235" cy="280" r="1.5" fill="#F4A000" stroke="#1e1000" stroke-width="0.65"/>
<circle cx="241.5" cy="278.2" r="1.5" fill="#F4A000" stroke="#1e1000" stroke-width="0.65"/>
<path d="M197,280.5 V248.6 H238.2 V254" fill="none" stroke="#3f3f3f" stroke-width="1.1"/>
<path d="M214.25,246.4 L214.25,245.05 M214.25,246.4 L212.97,245.98 M214.25,246.4 L213.46,247.49 M214.25,246.4 L215.04,247.49 M214.25,246.4 L215.53,245.98 " stroke="#222" stroke-width="0.8" stroke-linecap="round" fill="none"/>
<path d="M217.6,246.4 L217.6,245.05 M217.6,246.4 L216.32,245.98 M217.6,246.4 L216.81,247.49 M217.6,246.4 L218.39,247.49 M217.6,246.4 L218.88,245.98 " stroke="#222" stroke-width="0.8" stroke-linecap="round" fill="none"/>
<path d="M220.95,246.4 L220.95,245.05 M220.95,246.4 L219.67,245.98 M220.95,246.4 L220.16,247.49 M220.95,246.4 L221.74,247.49 M220.95,246.4 L222.23,245.98 " stroke="#222" stroke-width="0.8" stroke-linecap="round" fill="none"/>
<line x1="308.7" y1="252.8" x2="308.7" y2="310.9" stroke="#151515" stroke-width="1.1"/>
<line x1="305.6" y1="310.3" x2="308.7" y2="310.3" stroke="#151515" stroke-width="1"/>
<text x="298.03" y="313" font-size="8.3">0</text>
<line x1="305.6" y1="296.68" x2="308.7" y2="296.68" stroke="#151515" stroke-width="1"/>
<text x="293.42" y="299.38" font-size="8.3">50</text>
<line x1="305.6" y1="283.05" x2="308.7" y2="283.05" stroke="#151515" stroke-width="1"/>
<text x="288.81" y="285.75" font-size="8.3">100</text>
<line x1="305.6" y1="269.43" x2="308.7" y2="269.43" stroke="#151515" stroke-width="1"/>
<text x="288.81" y="272.12" font-size="8.3">150</text>
<line x1="305.6" y1="255.8" x2="308.7" y2="255.8" stroke="#151515" stroke-width="1"/>
<text x="288.81" y="258.5" font-size="8.3">200</text>
<text x="282.6" y="308.02" font-size="10" transform="rotate(-90 282.6 308.02)" textLength="54.03" lengthAdjust="spacingAndGlyphs">iFGF23 (pg/ml)</text>
<line x1="308.2" y1="310.3" x2="391.2" y2="310.3" stroke="#151515" stroke-width="1.2"/>
<rect x="315.6" y="307.3" width="26.8" height="3" fill="#C9C8CE"/>
<rect x="356.7" y="290.82" width="26.6" height="19.48" fill="#A4032A"/>
<line x1="329" y1="310.3" x2="329" y2="313.7" stroke="#151515" stroke-width="1"/>
<line x1="370" y1="310.3" x2="370" y2="313.7" stroke="#151515" stroke-width="1"/>
<text x="312.18" y="324.3" font-size="8.8" textLength="33.32" lengthAdjust="spacingAndGlyphs">PBS/BSA</text>
<text x="357.71" y="324.3" font-size="8.8" textLength="24.41" lengthAdjust="spacingAndGlyphs">G-CSF</text>
<line x1="329" y1="306.3" x2="329" y2="306.3" stroke="#111" stroke-width="1.1"/>
<line x1="322.75" y1="306.3" x2="335.25" y2="306.3" stroke="#111" stroke-width="1.1"/>
<line x1="322.75" y1="306.3" x2="335.25" y2="306.3" stroke="#111" stroke-width="1.1"/>
<circle cx="317.2" cy="307.5" r="1.5" fill="#F4A000" stroke="#1e1000" stroke-width="0.65"/>
<circle cx="321.7" cy="306" r="1.5" fill="#F4A000" stroke="#1e1000" stroke-width="0.65"/>
<circle cx="327" cy="306" r="1.5" fill="#F4A000" stroke="#1e1000" stroke-width="0.65"/>
<circle cx="331.5" cy="306" r="1.5" fill="#F4A000" stroke="#1e1000" stroke-width="0.65"/>
<circle cx="336.4" cy="307.8" r="1.5" fill="#F4A000" stroke="#1e1000" stroke-width="0.65"/>
<circle cx="341.2" cy="306.3" r="1.5" fill="#F4A000" stroke="#1e1000" stroke-width="0.65"/>
<line x1="370" y1="286.5" x2="370" y2="294" stroke="#111" stroke-width="1.1"/>
<line x1="363.75" y1="286.5" x2="376.25" y2="286.5" stroke="#111" stroke-width="1.1"/>
<line x1="363.75" y1="294" x2="376.25" y2="294" stroke="#111" stroke-width="1.1"/>
<circle cx="370" cy="279.3" r="1.5" fill="#F4A000" stroke="#1e1000" stroke-width="0.65"/>
<circle cx="370" cy="283.8" r="1.5" fill="#F4A000" stroke="#1e1000" stroke-width="0.65"/>
<circle cx="370" cy="288" r="1.5" fill="#F4A000" stroke="#1e1000" stroke-width="0.65"/>
<circle cx="370" cy="291" r="1.5" fill="#F4A000" stroke="#1e1000" stroke-width="0.65"/>
<circle cx="370" cy="297.3" r="1.5" fill="#F4A000" stroke="#1e1000" stroke-width="0.65"/>
<circle cx="370" cy="304.2" r="1.5" fill="#F4A000" stroke="#1e1000" stroke-width="0.65"/>
<path d="M329,298.2 V255.4 H369.8 V259.6" fill="none" stroke="#3f3f3f" stroke-width="1.1"/>
<path d="M346.05,252.1 L346.05,250.75 M346.05,252.1 L344.77,251.68 M346.05,252.1 L345.26,253.19 M346.05,252.1 L346.84,253.19 M346.05,252.1 L347.33,251.68 " stroke="#222" stroke-width="0.8" stroke-linecap="round" fill="none"/>
<path d="M349.4,252.1 L349.4,250.75 M349.4,252.1 L348.12,251.68 M349.4,252.1 L348.61,253.19 M349.4,252.1 L350.19,253.19 M349.4,252.1 L350.68,251.68 " stroke="#222" stroke-width="0.8" stroke-linecap="round" fill="none"/>
<path d="M352.75,252.1 L352.75,250.75 M352.75,252.1 L351.47,251.68 M352.75,252.1 L351.96,253.19 M352.75,252.1 L353.54,253.19 M352.75,252.1 L354.03,251.68 " stroke="#222" stroke-width="0.8" stroke-linecap="round" fill="none"/>
<line x1="430.7" y1="252.8" x2="430.7" y2="310.9" stroke="#151515" stroke-width="1.1"/>
<line x1="427.6" y1="310.3" x2="430.7" y2="310.3" stroke="#151515" stroke-width="1"/>
<text x="420.03" y="313" font-size="8.3">0</text>
<line x1="427.6" y1="296.68" x2="430.7" y2="296.68" stroke="#151515" stroke-width="1"/>
<text x="415.42" y="299.38" font-size="8.3">50</text>
<line x1="427.6" y1="283.05" x2="430.7" y2="283.05" stroke="#151515" stroke-width="1"/>
<text x="410.81" y="285.75" font-size="8.3">100</text>
<line x1="427.6" y1="269.43" x2="430.7" y2="269.43" stroke="#151515" stroke-width="1"/>
<text x="410.81" y="272.12" font-size="8.3">150</text>
<line x1="427.6" y1="255.8" x2="430.7" y2="255.8" stroke="#151515" stroke-width="1"/>
<text x="410.81" y="258.5" font-size="8.3">200</text>
<text x="404.7" y="307.34" font-size="10" transform="rotate(-90 404.7 307.34)" textLength="53" lengthAdjust="spacingAndGlyphs">cFGF23 (pg/ml)</text>
<line x1="430.2" y1="310.3" x2="512.7" y2="310.3" stroke="#151515" stroke-width="1.2"/>
<rect x="437.3" y="307.3" width="26.8" height="3" fill="#C9C8CE"/>
<rect x="478.9" y="280.32" width="26.6" height="29.98" fill="#A4032A"/>
<line x1="450.7" y1="310.3" x2="450.7" y2="313.7" stroke="#151515" stroke-width="1"/>
<line x1="492.2" y1="310.3" x2="492.2" y2="313.7" stroke="#151515" stroke-width="1"/>
<text x="434.48" y="324.3" font-size="8.8" textLength="33.22" lengthAdjust="spacingAndGlyphs">PBS/BSA</text>
<text x="480.02" y="324.3" font-size="8.8" textLength="23.38" lengthAdjust="spacingAndGlyphs">G-CSF</text>
<line x1="451" y1="306.3" x2="451" y2="306.3" stroke="#111" stroke-width="1.1"/>
<line x1="444.75" y1="306.3" x2="457.25" y2="306.3" stroke="#111" stroke-width="1.1"/>
<line x1="444.75" y1="306.3" x2="457.25" y2="306.3" stroke="#111" stroke-width="1.1"/>
<circle cx="439.5" cy="306" r="1.5" fill="#F4A000" stroke="#1e1000" stroke-width="0.65"/>
<circle cx="445.2" cy="306" r="1.5" fill="#F4A000" stroke="#1e1000" stroke-width="0.65"/>
<circle cx="451.5" cy="305.6" r="1.5" fill="#F4A000" stroke="#1e1000" stroke-width="0.65"/>
<circle cx="457.4" cy="306.8" r="1.5" fill="#F4A000" stroke="#1e1000" stroke-width="0.65"/>
<circle cx="463.3" cy="306.5" r="1.5" fill="#F4A000" stroke="#1e1000" stroke-width="0.65"/>
<circle cx="445.2" cy="309.6" r="1.5" fill="#F4A000" stroke="#1e1000" stroke-width="0.65"/>
<line x1="492" y1="275.9" x2="492" y2="283.7" stroke="#111" stroke-width="1.1"/>
<line x1="485.75" y1="275.9" x2="498.25" y2="275.9" stroke="#111" stroke-width="1.1"/>
<line x1="485.75" y1="283.7" x2="498.25" y2="283.7" stroke="#111" stroke-width="1.1"/>
<circle cx="492" cy="265.5" r="1.5" fill="#F4A000" stroke="#1e1000" stroke-width="0.65"/>
<circle cx="492" cy="271.2" r="1.5" fill="#F4A000" stroke="#1e1000" stroke-width="0.65"/>
<circle cx="492" cy="280.3" r="1.5" fill="#F4A000" stroke="#1e1000" stroke-width="0.65"/>
<circle cx="485.5" cy="288.9" r="1.5" fill="#F4A000" stroke="#1e1000" stroke-width="0.65"/>
<circle cx="492" cy="286.5" r="1.5" fill="#F4A000" stroke="#1e1000" stroke-width="0.65"/>
<circle cx="498.4" cy="287.6" r="1.5" fill="#F4A000" stroke="#1e1000" stroke-width="0.65"/>
<path d="M450.8,298.7 V256 H492 V261" fill="none" stroke="#3f3f3f" stroke-width="1.1"/>
<path d="M469.93,252.1 L469.93,250.75 M469.93,252.1 L468.64,251.68 M469.93,252.1 L469.13,253.19 M469.93,252.1 L470.72,253.19 M469.93,252.1 L471.21,251.68 " stroke="#222" stroke-width="0.8" stroke-linecap="round" fill="none"/>
<path d="M473.28,252.1 L473.28,250.75 M473.28,252.1 L471.99,251.68 M473.28,252.1 L472.48,253.19 M473.28,252.1 L474.07,253.19 M473.28,252.1 L474.56,251.68 " stroke="#222" stroke-width="0.8" stroke-linecap="round" fill="none"/>
</svg></div></body></html>
